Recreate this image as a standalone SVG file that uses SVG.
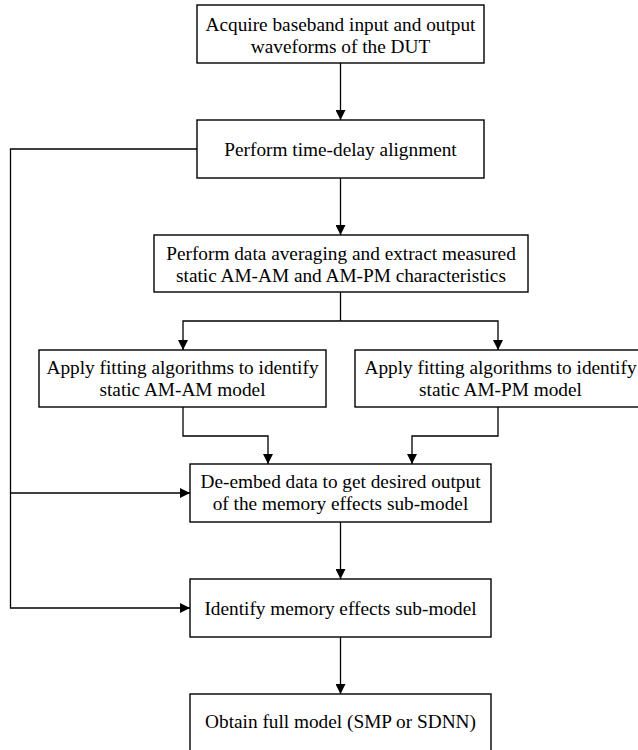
<svg xmlns="http://www.w3.org/2000/svg" width="638" height="750" viewBox="0 0 638 750">
  <style>
    .box { fill: #ffffff; stroke: #000000; stroke-width: 1.4; }
    .lbl { font-family: "Liberation Serif", "Times New Roman", serif; font-size: 19.3px; fill: #000000; text-anchor: middle; }
    .conn { fill: none; stroke: #000000; stroke-width: 1.3; }
  </style>
  <defs>
    <marker id="arrow" markerUnits="userSpaceOnUse" markerWidth="10" markerHeight="10" refX="10" refY="5" orient="auto">
      <path d="M0,0 L10,5 L0,10 Z" fill="#000000"/>
    </marker>
  </defs>
  <rect x="0" y="0" width="638" height="750" fill="#ffffff"/>

  <g id="connectors">
    <path class="conn" d="M340.5,63 V120" marker-end="url(#arrow)"/>
    <path class="conn" d="M340.5,178 V235" marker-end="url(#arrow)"/>
    <path class="conn" d="M197,149 H10.5 V608 H190" marker-end="url(#arrow)"/>
    <path class="conn" d="M10.5,493 H190" marker-end="url(#arrow)"/>
    <path class="conn" d="M340.5,292 V321"/>
    <path class="conn" d="M340.5,321 H183 V350" marker-end="url(#arrow)"/>
    <path class="conn" d="M340.5,321 H498 V350" marker-end="url(#arrow)"/>
    <path class="conn" d="M183,407 V436 H268 V464" marker-end="url(#arrow)"/>
    <path class="conn" d="M498,407 V436 H412 V464" marker-end="url(#arrow)"/>
    <path class="conn" d="M340.5,522 V579" marker-end="url(#arrow)"/>
    <path class="conn" d="M340.5,637 V694" marker-end="url(#arrow)"/>
  </g>

  <g id="n1">
    <rect class="box" x="197" y="5" width="287" height="58"/>
    <text class="lbl" x="340.5" y="31">Acquire baseband input and output</text>
    <text class="lbl" x="340.5" y="53">waveforms of the DUT</text>
  </g>
  <g id="n2">
    <rect class="box" x="197" y="120" width="287" height="58"/>
    <text class="lbl" x="340.5" y="155.5">Perform time-delay alignment</text>
  </g>
  <g id="n3">
    <rect class="box" x="154" y="235" width="374" height="57"/>
    <text class="lbl" x="341" y="260">Perform data averaging and extract measured</text>
    <text class="lbl" x="341" y="282">static AM-AM and AM-PM characteristics</text>
  </g>
  <g id="n4">
    <rect class="box" x="39" y="350" width="287" height="57"/>
    <text class="lbl" x="182.5" y="374">Apply fitting algorithms to identify</text>
    <text class="lbl" x="182.5" y="396">static AM-AM model</text>
  </g>
  <g id="n5">
    <rect class="box" x="355" y="350" width="290" height="57"/>
    <text class="lbl" x="500.5" y="374">Apply fitting algorithms to identify</text>
    <text class="lbl" x="500.5" y="396">static AM-PM model</text>
  </g>
  <g id="n6">
    <rect class="box" x="190" y="464" width="301" height="58"/>
    <text class="lbl" x="340.5" y="488">De-embed data to get desired output</text>
    <text class="lbl" x="340.5" y="510">of the memory effects sub-model</text>
  </g>
  <g id="n7">
    <rect class="box" x="190" y="579" width="301" height="58"/>
    <text class="lbl" x="340.5" y="614.5">Identify memory effects sub-model</text>
  </g>
  <g id="n8">
    <rect class="box" x="190" y="694" width="301" height="60"/>
    <text class="lbl" x="340.5" y="728">Obtain full model (SMP or SDNN)</text>
  </g>
</svg>
